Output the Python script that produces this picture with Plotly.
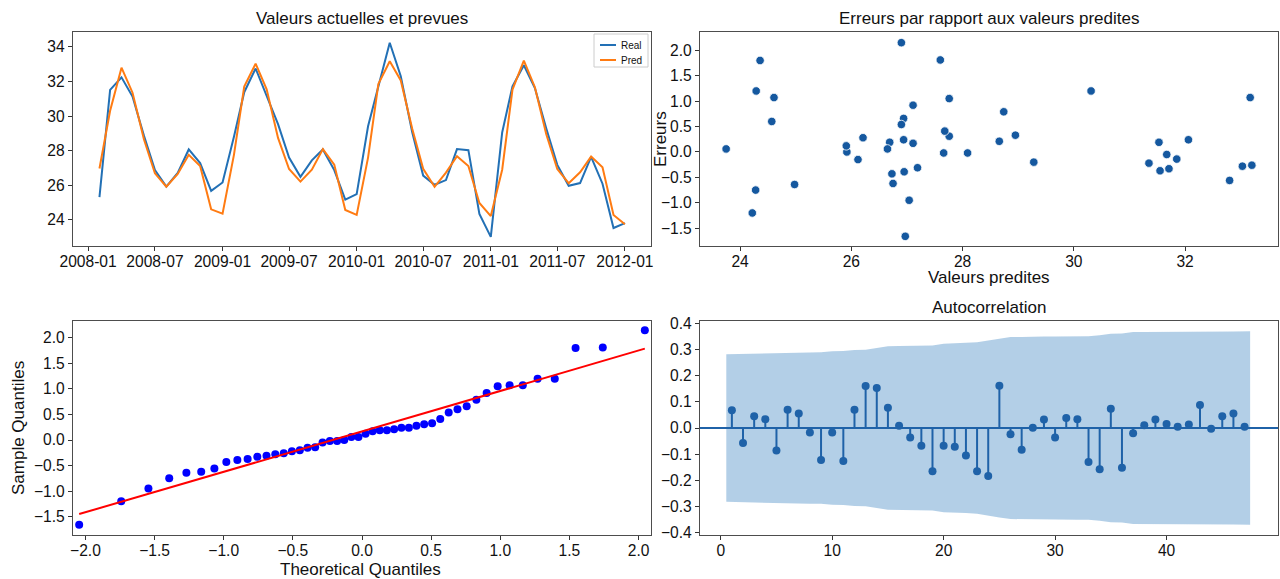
import statistics
import numpy as np
import pandas as pd
import plotly.graph_objects as go

# ---- data -------------------------------------------------------------
months = pd.date_range("2008-02-01", periods=48, freq="MS")

predicted = [
    26.97, 30.31, 32.80, 31.35, 28.66, 26.69, 25.92, 26.65, 27.76, 27.11,
    24.61, 24.36, 27.76, 31.71, 33.03, 31.55, 28.74, 26.94, 26.21, 26.90,
    28.09, 27.19, 24.57, 24.29, 27.60, 31.85, 33.17, 32.06, 29.28, 26.95,
    25.91, 26.73, 27.68, 27.11, 24.98, 24.22, 26.90, 31.53, 33.20, 31.67,
    28.95, 26.94, 26.12, 26.75, 27.66, 27.04, 24.28, 23.75,
]
actual = [
    25.31, 31.51, 32.24, 31.13, 28.87, 26.88, 25.92, 26.71, 28.07, 27.28,
    25.68, 26.16, 28.81, 31.38, 32.75, 31.18, 29.53, 27.60, 26.49, 27.44,
    28.07, 26.88, 25.17, 25.49, 29.41, 31.71, 34.24, 32.30, 29.08, 26.56,
    26.03, 26.30, 28.09, 28.03, 24.34, 23.02, 29.05, 31.72, 32.94, 31.62,
    29.28, 27.18, 25.97, 26.13, 27.64, 26.09, 23.53, 23.81,
]

acf_lags = list(range(1, 48))
acf_values = [
    0.068, -0.057, 0.045, 0.034, -0.086, 0.070, 0.056, -0.017, -0.123, -0.017,
    -0.126, 0.070, 0.161, 0.153, 0.078, 0.009, -0.036, -0.068, -0.166, -0.068,
    -0.072, -0.105, -0.166, -0.184, 0.162, -0.024, -0.083, 0.001, 0.033, -0.036,
    0.038, 0.034, -0.130, -0.158, 0.074, -0.152, -0.020, 0.011, 0.033, 0.015,
    0.005, 0.013, 0.088, -0.003, 0.045, 0.056, 0.005,
]

date_ticks = ["2008-01-01", "2008-07-01", "2009-01-01", "2009-07-01", "2010-01-01",
              "2010-07-01", "2011-01-01", "2011-07-01", "2012-01-01"]
series_names = ["Real", "Pred"]

# ---- derived quantities ---------------------------------------------
pred = np.array(predicted)
real = np.array(actual)
errors = real - pred
n = len(errors)

# normal Q-Q with a least-squares reference line
nd = statistics.NormalDist()
theo_q = np.array([nd.inv_cdf(i / (n + 1)) for i in range(1, n + 1)])
sample_q = np.sort(errors)
slope, intercept = np.polyfit(theo_q, sample_q, 1)
ref_line = slope * theo_q + intercept

# Bartlett confidence band for the autocorrelation
r = np.array(acf_values)
var_acf = np.empty(len(r))
var_acf[0] = 1.0 / n
var_acf[1:] = (1 + 2 * np.cumsum(r[:-1] ** 2)) / n
half_band = 1.96 * np.sqrt(var_acf)
band_x = np.array(acf_lags, dtype=float)
band_x[0] -= 0.5
band_x[-1] += 0.5

stem_x, stem_y = [], []
for lag, val in zip(acf_lags, acf_values):
    stem_x += [lag, lag, None]
    stem_y += [0, val, None]

# ---- styling ----------------------------------------------------------
FONT = "Liberation Sans, Arial, sans-serif"
BLUE = "#2270b5"
ORANGE = "#ff7b12"
DOT = "#15589f"
STEM = "#1f62a8"
BAND = "rgba(150,188,222,0.72)"
TXT = "#111111"
W, H = 1280, 579

def px_x(v):
    return v / W

def px_y(v):
    return 1 - v / H

def dom_x(a, b):
    return [px_x(a), px_x(b)]

def dom_y(top, bottom):
    return [px_y(bottom), px_y(top)]

fig = go.Figure()

# top-left: actual vs predicted
fig.add_trace(go.Scatter(x=months, y=actual, mode="lines", name=series_names[0],
                         line=dict(color=BLUE, width=2), xaxis="x", yaxis="y"))
fig.add_trace(go.Scatter(x=months, y=predicted, mode="lines", name=series_names[1],
                         line=dict(color=ORANGE, width=2), xaxis="x", yaxis="y"))

# top-right: residuals vs fitted
fig.add_trace(go.Scatter(x=pred, y=errors, mode="markers",
                         marker=dict(color=DOT, size=8.5, line=dict(color="white", width=0.8)),
                         xaxis="x2", yaxis="y2"))

# bottom-left: Q-Q plot
fig.add_trace(go.Scatter(x=theo_q, y=sample_q, mode="markers",
                         marker=dict(color="#0000ff", size=8), xaxis="x3", yaxis="y3"))
fig.add_trace(go.Scatter(x=theo_q, y=ref_line, mode="lines",
                         line=dict(color="#ff0000", width=2), xaxis="x3", yaxis="y3"))

# bottom-right: autocorrelation
fig.add_trace(go.Scatter(x=np.concatenate([band_x, band_x[::-1]]),
                         y=np.concatenate([half_band, -half_band[::-1]]),
                         mode="lines", fill="toself", fillcolor=BAND,
                         line=dict(width=0), hoverinfo="skip",
                         xaxis="x4", yaxis="y4"))
fig.add_trace(go.Scatter(x=stem_x, y=stem_y, mode="lines",
                         line=dict(color=STEM, width=2), xaxis="x4", yaxis="y4"))
fig.add_trace(go.Scatter(x=acf_lags, y=acf_values, mode="markers",
                         marker=dict(color=STEM, size=8), xaxis="x4", yaxis="y4"))
fig.add_shape(type="line", xref="x4 domain", yref="y4", x0=0, x1=1, y0=0, y1=0,
              line=dict(color=STEM, width=2))

axis_common = dict(showline=True, mirror=True, linecolor="#4d4d4d", linewidth=1.4,
                   ticks="outside", ticklen=4, tickcolor="#333333", tickwidth=1,
                   showgrid=False, zeroline=False, automargin=False,
                   tickfont=dict(family=FONT, size=15.6, color=TXT))
x_common = dict(axis_common, ticklabelstandoff=-3)
title_font = dict(family=FONT, size=17, color=TXT)

LEFT = dom_x(73, 651)
RIGHT = dom_x(700, 1278)
TOP = dom_y(32, 246)
BOTTOM = dom_y(321, 535)

fig.update_layout(
    width=W, height=H, margin=dict(l=0, r=0, t=0, b=0),
    paper_bgcolor="white", plot_bgcolor="white",
    font=dict(family=FONT, color=TXT),
    showlegend=False,
    xaxis=dict(domain=LEFT, anchor="y", type="date",
               range=["2007-11-21", "2012-03-12"],
               tickvals=date_ticks, tickformat="%Y-%m", **x_common),
    yaxis=dict(domain=TOP, anchor="x", range=[22.49, 34.86],
               tickvals=[24, 26, 28, 30, 32, 34], **axis_common),
    xaxis2=dict(domain=RIGHT, anchor="y2", range=[23.28, 33.67],
                tickvals=[24, 26, 28, 30, 32], **x_common),
    yaxis2=dict(domain=TOP, anchor="x2", range=[-1.85, 2.36],
                tickvals=[-1.5, -1.0, -0.5, 0.0, 0.5, 1.0, 1.5, 2.0], tickformat=".1f",
                **axis_common),
    xaxis3=dict(domain=LEFT, anchor="y3", range=[-2.09, 2.09],
                tickvals=[-2.0, -1.5, -1.0, -0.5, 0.0, 0.5, 1.0, 1.5, 2.0], tickformat=".1f",
                **x_common),
    yaxis3=dict(domain=BOTTOM, anchor="x3", range=[-1.86, 2.33],
                tickvals=[-1.5, -1.0, -0.5, 0.0, 0.5, 1.0, 1.5, 2.0], tickformat=".1f",
                **axis_common),
    xaxis4=dict(domain=RIGHT, anchor="y4", range=[-1.86, 50.0],
                tickvals=[0, 10, 20, 30, 40], **x_common),
    yaxis4=dict(domain=BOTTOM, anchor="x4", range=[-0.41, 0.41],
                tickvals=[-0.4, -0.3, -0.2, -0.1, 0.0, 0.1, 0.2, 0.3, 0.4], tickformat=".1f",
                **axis_common),
)

# panel titles
for text, xc, ytop in [("Valeurs actuelles et prevues", 362, 32),
                       ("Erreurs par rapport aux valeurs predites", 989, 32),
                       ("Autocorrelation", 989, 321)]:
    fig.add_annotation(text=text, xref="paper", yref="paper",
                       x=px_x(xc), y=px_y(ytop - 2), xanchor="center", yanchor="bottom",
                       showarrow=False, font=title_font)

# axis titles
for text, xc, yc, angle in [("Valeurs predites", 989, 277, 0),
                            ("Erreurs", 660, 139, -90),
                            ("Theoretical Quantiles", 360, 569, 0),
                            ("Sample Quantiles", 18, 428, -90)]:
    fig.add_annotation(text=text, xref="paper", yref="paper",
                       x=px_x(xc), y=px_y(yc), xanchor="center", yanchor="middle",
                       textangle=angle, showarrow=False, font=title_font)

# legend box for the two line series
fig.add_shape(type="rect", xref="paper", yref="paper",
              x0=px_x(594), x1=px_x(648), y0=px_y(67), y1=px_y(34),
              line=dict(color="#cccccc", width=1), fillcolor="rgba(255,255,255,0.8)")
for name, color, yc in [(series_names[0], BLUE, 45), (series_names[1], ORANGE, 60)]:
    fig.add_shape(type="line", xref="paper", yref="paper",
                  x0=px_x(600), x1=px_x(616), y0=px_y(yc), y1=px_y(yc),
                  line=dict(color=color, width=2))
    fig.add_annotation(text=name, xref="paper", yref="paper",
                       x=px_x(619), y=px_y(yc), xanchor="left", yanchor="middle",
                       showarrow=False, font=dict(family=FONT, size=10, color=TXT))

fig.write_html("out.html")
